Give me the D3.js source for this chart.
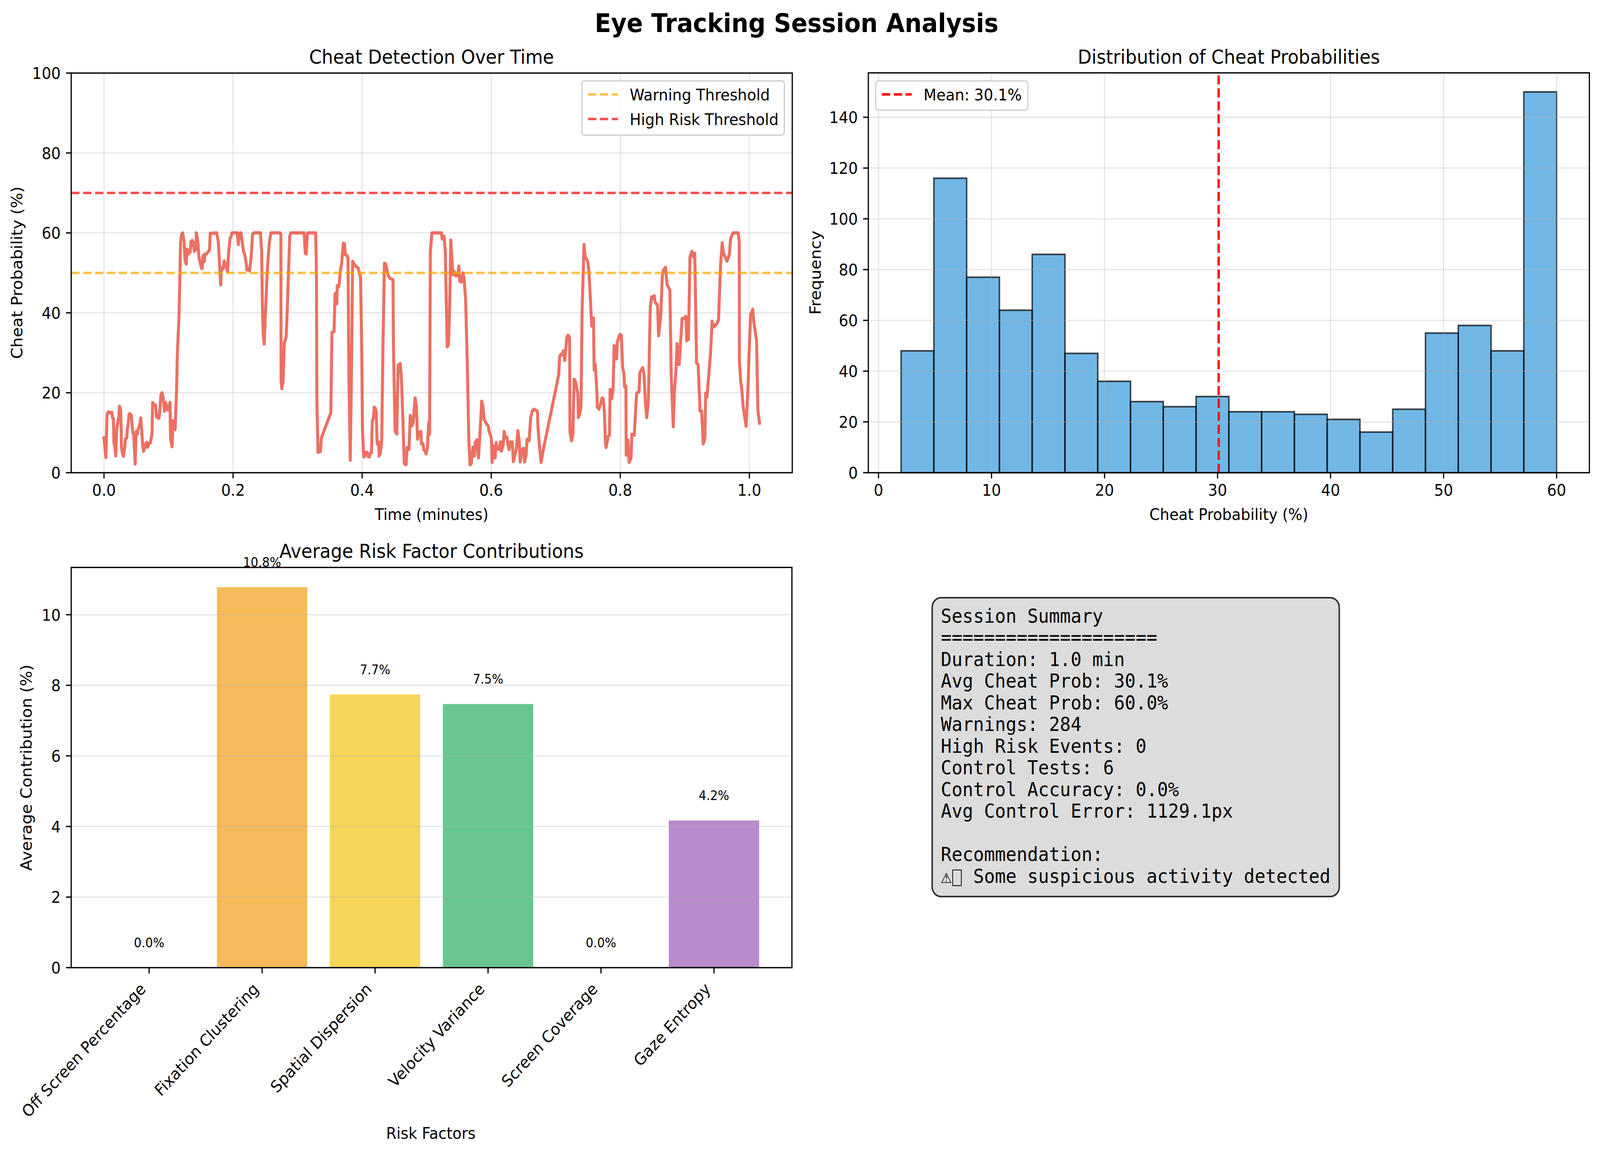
<!DOCTYPE html>
<html>
<head>
<meta charset="utf-8">
<script src="https://cdn.jsdelivr.net/npm/d3@7"></script>
<style>
  html, body { margin: 0; padding: 0; background: #fff; overflow: hidden; }
  svg { display: block; width: 100vw; height: 100vh; }
  text { font-family: "DejaVu Sans", sans-serif; fill: #000; }
  .mono { font-family: "DejaVu Sans Mono", monospace; white-space: pre; }
</style>
</head>
<body>
<svg id="chart" viewBox="0 0 4449 2954" preserveAspectRatio="none"></svg>
<script>
// values
const timeMinutes = [
  0, .003, .0047, .0067, .0097, .0122, .0132, .0147, .0154, .0167,
  .0182, .0197, .0216, .0229, .0239, .0249, .0259, .0271, .0286, .0301,
  .0321, .0331, .0353, .0361, .0371, .0386, .0398, .0423, .0435, .0445,
  .0460, .0483, .0498, .0515, .0527, .0547, .0570, .0590, .0600, .0612,
  .0634, .0647, .0664, .0677, .0694, .0719, .0744, .0754, .0776, .0801,
  .0813, .0851, .0863, .0883, .0898, .0918, .0938, .0958, .0988, .1005,
  .1022, .1032, .1055, .1070, .1087, .1102, .1124, .1137, .1162, .1177,
  .1187, .1201, .1219, .1241, .1256, .1274, .1289, .1306, .1336, .1348,
  .1368, .1386, .1400, .1423, .1430, .1448, .1473, .1510, .1522, .1535,
  .1555, .1565, .1585, .1622, .1634, .1647, .1746, .1771, .1789, .1808,
  .1821, .1846, .1863, .1883, .1913, .1933, .1953, .1970, .1983, .2062,
  .2082, .2095, .2124, .2144, .2162, .2182, .2206, .2214, .2244, .2256,
  .2281, .2301, .2318, .2425, .2443, .2455, .2468, .2483, .2500, .2530,
  .2560, .2587, .2729, .2741, .2744, .2756, .2774, .2794, .2823, .2841,
  .2878, .2896, .3102, .3119, .3134, .3152, .3164, .3279, .3291, .3299,
  .3316, .3353, .3368, .3515, .3532, .3565, .3577, .3582, .3607, .3614,
  .3639, .3664, .3682, .3709, .3726, .3739, .3764, .3781, .3796, .3816,
  .3833, .3853, .3876, .3901, .3938, .3975, .3995, .4005, .4025, .4037,
  .4055, .4075, .4095, .4114, .4124, .4144, .4157, .4174, .4187, .4204,
  .4219, .4229, .4234, .4254, .4264, .4281, .4303, .4323, .4346, .4366,
  .4386, .4405, .4435, .4478, .4485, .4510, .4537, .4557, .4590, .4609,
  .4634, .4652, .4682, .4697, .4726, .4746, .4771, .4791, .4821, .4841,
  .4858, .4883, .4910, .4920, .4945, .4953, .4975, .4990, .5012, .5032,
  .5045, .5057, .5082, .5206, .5231, .5239, .5269, .5289, .5318, .5338,
  .5356, .5373, .5393, .5405, .5430, .5443, .5480, .5498, .5512, .5537,
  .5562, .5580, .5604, .5629, .5654, .5672, .5692, .5716, .5741, .5754,
  .5779, .5803, .5828, .5853, .5873, .5891, .5928, .5953, .5965, .6002,
  .6015, .6027, .6060, .6077, .6090, .6127, .6144, .6159, .6184, .6201,
  .6219, .6244, .6259, .6276, .6301, .6326, .6343, .6363, .6388, .6413,
  .6433, .6450, .6475, .6500, .6517, .6537, .6557, .6587, .6612, .6637,
  .6662, .6716, .6724, .6749, .6774, .6803, .7047, .7060, .7080, .7104,
  .7117, .7139, .7172, .7192, .7214, .7221, .7246, .7266, .7284, .7308,
  .7341, .7351, .7371, .7391, .7408, .7438, .7458, .7495, .7512, .7532,
  .7557, .7585, .7595, .7612, .7639, .7644, .7669, .7694, .7719, .7736,
  .7756, .7769, .7781, .7813, .7833, .7843, .7868, .7888, .7905, .7923,
  .7943, .7955, .7993, .8017, .8037, .8055, .8067, .8087, .8092, .8117,
  .8137, .8167, .8179, .8216, .8254, .8291, .8303, .8346, .8366, .8391,
  .8410, .8435, .8465, .8485, .8502, .8525, .8540, .8577, .8594, .8627,
  .8652, .8669, .8701, .8726, .8751, .8769, .8789, .8821, .8838, .8863,
  .8880, .8913, .8958, .8987, .9017, .9030, .9057, .9080, .9112, .9132,
  .9154, .9182, .9206, .9236, .9261, .9286, .9311, .9323, .9343, .9398,
  .9423, .9448, .9485, .9522, .9555, .9580, .9597, .9654, .9692, .9709,
  .9746, .9828, .9843, .9846, .9865, .9888, .9903, .9950, .9983, .9995,
  1.0020, 1.0052, 1.0070, 1.0112, 1.0132, 1.0157
];
const cheatProb = [
  8.7, 3.8, 14.6, 15.2, 15.0, 15.1, 13.7, 13.5, 7.5, 6.5,
  4.2, 10.8, 12.9, 13.8, 16.6, 16.4, 15.7, 6.3, 4.9, 4.1,
  6.3, 8.4, 8.7, 11.0, 11.5, 14.3, 14.8, 14.4, 11.9, 10.1,
  9.6, 2.2, 10.3, 9.6, 10.8, 11.5, 13.7, 9.1, 6.8, 5.4,
  6.3, 7.2, 7.6, 6.4, 7.2, 7.5, 9.8, 17.5, 17.1, 16.8,
  14.0, 13.6, 15.0, 19.6, 20.0, 18.7, 15.4, 17.5, 15.7, 15.7,
  17.6, 8.4, 6.5, 13.0, 12.9, 10.8, 20.3, 29.7, 39.1, 49.8,
  57.8, 59.6, 60, 57.8, 53.1, 52.2, 55.9, 54.7, 55.2, 57.8,
  58.1, 57.5, 55.4, 55.9, 60, 58.7, 53.8, 51.2, 51.1, 54.3,
  52.9, 54.7, 54.7, 55.4, 55.7, 59.9, 60, 57.8, 52.6, 47.0,
  51.2, 51.0, 53.0, 52.2, 50.3, 55.4, 58.5, 59.2, 60, 60,
  57.1, 59.9, 60, 57.3, 55.4, 54.5, 52.2, 50.7, 51.0, 50.5,
  54.0, 59.6, 60, 60, 55.4, 41.4, 34.4, 32.2, 39.1, 50.7,
  57.3, 60, 60, 59.6, 23.2, 21.0, 22.7, 32.5, 33.9, 41.4,
  59.2, 60, 60, 54.9, 54.7, 59.9, 60, 60, 51.7, 18.0,
  5.1, 5.3, 8.7, 15.0, 35.1, 35.3, 42.8, 44.8, 42.3, 46.8,
  46.5, 50.7, 52.2, 57.4, 57.3, 54.5, 54.4, 53.6, 22.7, 3.1,
  22.7, 52.9, 52.2, 51.7, 51.2, 48.9, 29.2, 11.0, 4.0, 4.0,
  5.1, 5.1, 4.0, 4.0, 4.9, 5.0, 12.9, 13.6, 16.4, 16.1,
  15.2, 9.1, 7.2, 7.7, 4.2, 4.9, 7.7, 32.0, 52.4, 52.2,
  50.7, 49.3, 48.6, 48.3, 32.0, 10.5, 9.7, 26.9, 27.3, 23.6,
  11.9, 2.3, 2.0, 6.3, 5.8, 14.3, 11.7, 12.6, 18.7, 16.6,
  8.4, 10.1, 10.3, 7.2, 7.2, 5.8, 5.6, 4.7, 6.3, 12.6,
  9.6, 55.4, 60, 60, 60, 58.5, 59.2, 55.4, 31.5, 32.0,
  41.4, 58.2, 53.3, 49.6, 50.3, 49.3, 49.3, 51.7, 47.9, 47.7,
  50.0, 48.4, 43.3, 27.4, 7.7, 2.0, 2.3, 6.3, 4.2, 7.7,
  8.2, 3.7, 10.3, 17.9, 16.4, 13.3, 12.2, 11.7, 10.5, 8.7,
  2.6, 6.8, 3.7, 7.5, 6.1, 5.8, 7.7, 5.4, 6.8, 10.3,
  8.7, 8.9, 7.0, 5.8, 7.7, 7.7, 2.8, 4.2, 5.8, 10.5,
  8.2, 2.7, 5.8, 6.1, 2.7, 4.0, 8.4, 8.0, 13.8, 15.4,
  15.9, 15.4, 11.5, 6.3, 2.6, 5.4, 24.6, 29.0, 29.6, 29.5,
  30.5, 28.1, 33.9, 34.4, 33.9, 10.1, 8.0, 9.6, 23.4, 22.7,
  19.9, 13.8, 14.7, 16.4, 40.0, 57.1, 54.0, 52.9, 50.7, 45.1,
  36.7, 38.7, 25.7, 27.1, 19.9, 16.4, 15.9, 17.1, 18.7, 18.5,
  14.7, 7.7, 6.3, 9.1, 9.4, 20.8, 18.5, 20.8, 31.8, 28.5,
  28.5, 32.7, 34.6, 34.3, 26.2, 25.0, 21.5, 21.7, 4.4, 8.2,
  2.6, 3.7, 9.6, 9.4, 19.9, 20.3, 25.0, 26.3, 25.0, 17.1,
  13.8, 18.0, 41.4, 44.0, 43.5, 44.3, 42.6, 41.9, 34.3, 39.1,
  49.3, 50.7, 51.4, 47.0, 46.3, 45.6, 24.6, 11.5, 20.3, 25.5,
  32.3, 27.1, 38.6, 38.6, 39.1, 33.0, 33.4, 54.0, 55.4, 54.0,
  54.9, 27.4, 27.1, 15.4, 15.4, 7.2, 8.7, 19.9, 18.9, 29.7,
  37.9, 36.5, 37.0, 38.2, 52.2, 57.5, 55.0, 52.9, 54.7, 58.5,
  60, 60, 57.8, 27.8, 23.2, 19.9, 16.6, 11.6, 23.2, 29.7,
  39.5, 40.9, 37.7, 33.0, 15.7, 12.4
];
const thresholds = [
  { name: 'Warning Threshold', value: 50, color: 'orange' },
  { name: 'High Risk Threshold', value: 70, color: 'red' }
];

const histEdges = [2.0, 4.9, 7.8, 10.7, 13.6, 16.5, 19.4, 22.3, 25.2, 28.1, 31.0,
  33.9, 36.8, 39.7, 42.6, 45.5, 48.4, 51.3, 54.2, 57.1, 60.0];
const histCounts = [48, 116, 77, 64, 86, 47, 36, 28, 26, 30, 24, 24, 23, 21, 16, 25, 55, 58, 48, 150];
const meanProb = 30.1;

const factorNames = ['Off Screen Percentage', 'Fixation Clustering', 'Spatial Dispersion',
  'Velocity Variance', 'Screen Coverage', 'Gaze Entropy'];
const factorValues = [0, 10.78, 7.74, 7.47, 0, 4.17];
const factorLabels = ['0.0%', '10.8%', '7.7%', '7.5%', '0.0%', '4.2%'];
const factorColors = ['#e74c3c', '#f39c12', '#f1c40f', '#27ae60', '#3498db', '#9b59b6'];

const summaryLines = [
  'Session Summary',
  '====================',
  'Duration: 1.0 min',
  'Avg Cheat Prob: 30.1%',
  'Max Cheat Prob: 60.0%',
  'Warnings: 284',
  'High Risk Events: 0',
  'Control Tests: 6',
  'Control Accuracy: 0.0%',
  'Avg Control Error: 1129.1px',
  '',
  'Recommendation:',
  '\u26A0  Some suspicious activity detected'
];

// 1pt is 4.1667px in the reference; coordinates below are the reference's pixels,
// the viewBox fits them to whatever window the page gets
const pt = 300 / 72;
const svg = d3.select('#chart');

function panelTitle(cx, y, str) {
  svg.append('text').attr('x', cx).attr('y', y).attr('text-anchor', 'middle')
    .style('font-size', (12 * pt) + 'px').text(str);
}

function axisLabels(xLabel, xx, xy, yLabel, yx, yy) {
  svg.append('text').attr('x', xx).attr('y', xy).attr('text-anchor', 'middle')
    .style('font-size', (10 * pt) + 'px').text(xLabel);
  svg.append('text').attr('transform', `translate(${yx},${yy}) rotate(-90)`)
    .attr('text-anchor', 'middle').style('font-size', (10 * pt) + 'px').text(yLabel);
}

function grid(g, x, y, xTicks, yTicks) {
  const [left, right] = x.range();
  const [bottom, top] = y.range();
  const style = (sel) => sel.attr('stroke', '#b0b0b0').attr('stroke-opacity', 0.3).attr('stroke-width', 0.8 * pt);
  g.selectAll('line.gx').data(xTicks).enter().append('line').classed('gx', true)
    .attr('x1', (d) => x(d)).attr('x2', (d) => x(d)).attr('y1', bottom).attr('y2', top).call(style);
  g.selectAll('line.gy').data(yTicks).enter().append('line').classed('gy', true)
    .attr('y1', (d) => y(d)).attr('y2', (d) => y(d)).attr('x1', left).attr('x2', right).call(style);
}

function styleAxis(g) {
  g.select('.domain').remove();
  g.selectAll('.tick line').attr('stroke', '#000').attr('stroke-width', 0.8 * pt);
  g.selectAll('.tick text').style('font-size', (10 * pt) + 'px');
}

function drawAxes(xAxis, x, y, yAxis) {
  const [left, right] = x.range();
  const [bottom, top] = y.range();
  svg.append('g').attr('transform', `translate(0,${bottom})`).call(xAxis).call(styleAxis);
  svg.append('g').attr('transform', `translate(${left},0)`).call(yAxis).call(styleAxis)
    .selectAll('.tick text').attr('dy', '0.36em');
  svg.append('rect').attr('x', left).attr('y', top).attr('width', right - left).attr('height', bottom - top)
    .attr('fill', 'none').attr('stroke', '#000').attr('stroke-width', 0.8 * pt);
}

function legendBox(g, x, y, w, h) {
  g.append('rect').attr('x', x).attr('y', y).attr('width', w).attr('height', h)
    .attr('rx', 8).attr('ry', 8)
    .attr('fill', '#fff').attr('fill-opacity', 0.8)
    .attr('stroke', '#ccc').attr('stroke-opacity', 0.8).attr('stroke-width', pt);
}

const tickLen = 3.5 * pt;
const axisB = (s) => d3.axisBottom(s).tickSize(tickLen).tickPadding(tickLen).offset(0);
const axisL = (s) => d3.axisLeft(s).tickSize(tickLen).tickPadding(tickLen).offset(0);
const dashStyle = `${3.7 * 1.5 * pt},${1.6 * 1.5 * pt}`;

// suptitle
svg.append('text').attr('x', 2215).attr('y', 82).attr('text-anchor', 'middle')
  .style('font-size', (16 * pt) + 'px').style('font-weight', 'bold').text('Eye Tracking Session Analysis');

// ---- cheat probability over time
const x1 = d3.scaleLinear().domain([-0.0508, 1.0665]).range([198, 2203]);
const y1 = d3.scaleLinear().domain([0, 100]).range([1210, 187]);
const p1 = svg.append('g');
grid(p1, x1, y1, x1.ticks(6), y1.ticks(5));

const line = d3.line().x((d) => x1(d)).y((d, i) => y1(cheatProb[i]));
p1.append('path').attr('d', line(timeMinutes))
  .attr('fill', 'none').attr('stroke', '#e74c3c').attr('stroke-opacity', 0.8)
  .attr('stroke-width', 2 * pt).attr('stroke-linejoin', 'round').attr('stroke-linecap', 'square');

p1.selectAll('line.thresh').data(thresholds).enter().append('line').classed('thresh', true)
  .attr('x1', x1.range()[0]).attr('x2', x1.range()[1])
  .attr('y1', (d) => y1(d.value)).attr('y2', (d) => y1(d.value))
  .attr('stroke', (d) => d.color).attr('stroke-opacity', 0.7)
  .attr('stroke-width', 1.5 * pt).attr('stroke-dasharray', dashStyle);

drawAxes(axisB(x1).tickValues(x1.ticks(6)).tickFormat(d3.format('.1f')), x1, y1, axisL(y1).ticks(5));
panelTitle(1200, 163, 'Cheat Detection Over Time');
axisLabels('Time (minutes)', 1200, 1331, 'Cheat Probability (%)', 62, 698);

const leg1 = svg.append('g');
legendBox(leg1, 1618, 207, 563, 139);
thresholds.forEach((d, i) => {
  const ly = 241.7 + i * 63;
  leg1.append('line').attr('x1', 1635).attr('x2', 1718).attr('y1', ly).attr('y2', ly)
    .attr('stroke', d.color).attr('stroke-opacity', 0.7)
    .attr('stroke-width', 1.5 * pt).attr('stroke-dasharray', dashStyle);
  leg1.append('text').attr('x', 1751).attr('y', ly + 15).style('font-size', (10 * pt) + 'px').text(d.name);
});

// ---- histogram
const x2 = d3.scaleLinear().domain([-0.9, 62.9]).range([2414.5, 4419.5]);
const y2 = d3.scaleLinear().domain([0, 157.5]).range([1210, 186.5]);
const p2 = svg.append('g');
p2.selectAll('rect.bin').data(histCounts).enter().append('rect').classed('bin', true)
  .attr('x', (d, i) => x2(histEdges[i]))
  .attr('width', (d, i) => x2(histEdges[i + 1]) - x2(histEdges[i]))
  .attr('y', (d) => y2(d))
  .attr('height', (d) => y2(0) - y2(d))
  .attr('fill', '#3498db').attr('fill-opacity', 0.7)
  .attr('stroke', '#000').attr('stroke-opacity', 0.7).attr('stroke-width', pt);
grid(p2, x2, y2, x2.ticks(7), y2.ticks(8));
p2.append('line').attr('x1', x2(meanProb)).attr('x2', x2(meanProb)).attr('y1', y2.range()[0]).attr('y2', y2.range()[1])
  .attr('stroke', 'red').attr('stroke-width', 1.5 * pt).attr('stroke-dasharray', dashStyle);

drawAxes(axisB(x2).ticks(7), x2, y2, axisL(y2).ticks(8));
panelTitle(3417, 163, 'Distribution of Cheat Probabilities');
axisLabels('Cheat Probability (%)', 3417, 1331, 'Frequency', 2282, 698);

const leg2 = svg.append('g');
legendBox(leg2, 2435, 207, 423, 75);
leg2.append('line').attr('x1', 2452).attr('x2', 2535).attr('y1', 241.7).attr('y2', 241.7)
  .attr('stroke', 'red').attr('stroke-width', 1.5 * pt).attr('stroke-dasharray', dashStyle);
leg2.append('text').attr('x', 2568).attr('y', 256.7).style('font-size', (10 * pt) + 'px').text(`Mean: ${meanProb}%`);

// ---- risk factor bars
const x3 = d3.scaleBand().domain(factorNames).range([198, 2202]).paddingInner(0.2).paddingOuter(0.29);
const y3 = d3.scaleLinear().domain([0, 11.34]).range([2477, 1452.5]);
const p3 = svg.append('g');
p3.selectAll('rect.bar').data(factorValues).enter().append('rect').classed('bar', true)
  .attr('x', (d, i) => x3(factorNames[i]))
  .attr('width', x3.bandwidth())
  .attr('y', (d) => y3(d))
  .attr('height', (d) => y3(0) - y3(d))
  .attr('fill', (d, i) => factorColors[i]).attr('fill-opacity', 0.7);
grid(p3, { range: () => x3.range() }, y3, [], [0, 2, 4, 6, 8, 10]);

drawAxes(axisB(x3).tickFormat(() => ''), x3, y3, axisL(y3).tickValues([0, 2, 4, 6, 8, 10]));

svg.selectAll('text.rot').data(factorNames).enter().append('text').classed('rot', true)
  .attr('transform', (d) => `translate(${x3(d) + x3.bandwidth() / 2 - 7},${y3(0) + 57}) rotate(-45)`)
  .attr('text-anchor', 'end').style('font-size', (10 * pt) + 'px').text((d) => d);

svg.selectAll('text.val').data(factorValues).enter().append('text').classed('val', true)
  .attr('x', (d, i) => x3(factorNames[i]) + x3.bandwidth() / 2)
  .attr('y', (d) => y3(d) - 52)
  .attr('text-anchor', 'middle').style('font-size', (8 * pt) + 'px')
  .text((d, i) => factorLabels[i]);

panelTitle(1200, 1428, 'Average Risk Factor Contributions');
axisLabels('Risk Factors', 1198, 2915, 'Average Contribution (%)', 88, 1965);

// ---- summary box
const box = svg.append('g');
box.append('rect').attr('x', 2592).attr('y', 1530).attr('width', 1132).attr('height', 765)
  .attr('rx', 25).attr('ry', 25)
  .attr('fill', '#d3d3d3').attr('fill-opacity', 0.8)
  .attr('stroke', '#000').attr('stroke-opacity', 0.8).attr('stroke-width', pt);
box.selectAll('text').data(summaryLines).enter().append('text').classed('mono', true)
  .attr('x', 2616).attr('y', (d, i) => 1594 + i * 55.5)
  .style('font-size', (12 * pt) + 'px').text((d) => d);
// the missing-glyph box the reference shows after the warning sign
box.append('rect').attr('x', 2649).attr('y', 2227).attr('width', 24).attr('height', 40)
  .attr('fill', 'none').attr('stroke', '#000').attr('stroke-width', 2);
</script>
</body>
</html>
